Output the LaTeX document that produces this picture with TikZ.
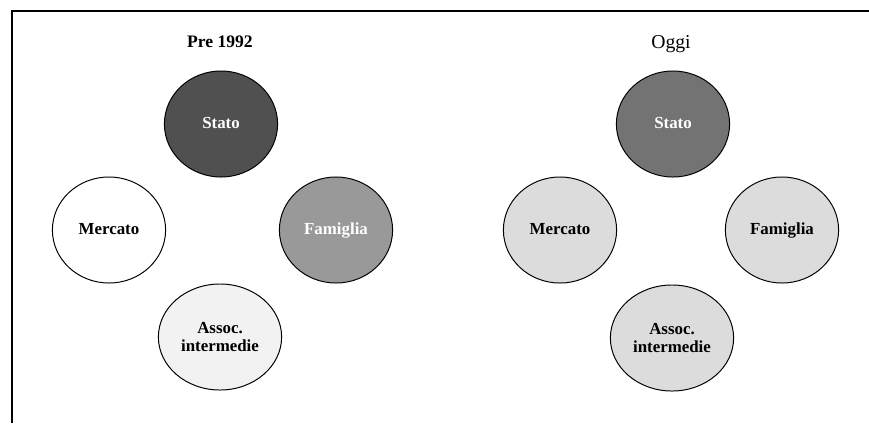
\documentclass[tikz,border=0pt]{standalone}
\usepackage{fontspec}
\setmainfont{Liberation Serif}
\usetikzlibrary{shapes.geometric}
\definecolor{statoscuro}{HTML}{505050}
\definecolor{statomedio}{HTML}{737373}
\definecolor{famgrigio}{HTML}{999999}
\definecolor{chiaro}{HTML}{DCDCDC}
\definecolor{chiarissimo}{HTML}{F2F2F2}

\tikzset{
  ente/.style={ellipse, draw, line width=0.7pt,
               minimum width=2.83cm, minimum height=2.65cm,
               align=center, font=\fontsize{12}{13.5}\selectfont\bfseries},
  riga/.style={text height=1.9ex, text depth=0.4ex},
  titolo/.style={font=\fontsize{12.5}{14}\selectfont}
}

\begin{document}
\begin{tikzpicture}[x=0.025cm, y=-0.025cm]
\useasboundingbox (0,0) rectangle (869,423);

% cornice
\draw[line width=0.8pt] (12,423) -- (12,11) -- (869,11);

% pre 1992
\node[titolo, font=\fontsize{12.5}{14}\selectfont\bfseries] at (220,42) (tpre) {Pre 1992};
\node [ente, riga, fill=statoscuro, text=white] at (221,124) (statoA) {Stato};
\node [ente, riga, fill=white] at (109,230) (mercatoA) {Mercato};
\node [ente, riga, fill=famgrigio, text=white] at (336,230) (famigliaA) {Famiglia};
\node [ente, fill=chiarissimo] at (220,337) (assocA) {Assoc.\\intermedie};

% oggi
\node[titolo, font=\fontsize{14}{16}\selectfont] at (671,44) (toggi) {Oggi};
\node [ente, riga, fill=statomedio, text=white] at (673,124) (statoB) {Stato};
\node [ente, riga, fill=chiaro] at (560,230) (mercatoB) {Mercato};
\node [ente, riga, fill=chiaro] at (782,230) (famigliaB) {Famiglia};
\node [ente, fill=chiaro] at (672,338) (assocB) {Assoc.\\intermedie};
\end{tikzpicture}
\end{document}
